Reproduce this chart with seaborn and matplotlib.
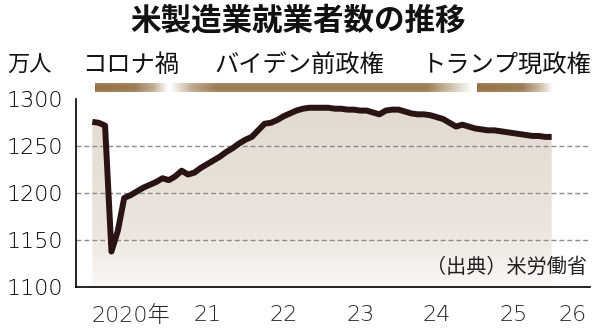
import numpy as np
import pandas as pd
import matplotlib
matplotlib.use("Agg")
import matplotlib.pyplot as plt
import seaborn as sns
from matplotlib.colors import LinearSegmentedColormap, to_rgb

# ---------------- data ----------------
title = "米製造業就業者数の推移"
unit_label = "万人"
source_label = "（出典）米労働省"

# monthly US manufacturing employment (10k persons), Jan 2020 .. Jan 2026
values_2020 = [1276, 1275, 1272, 1138, 1160, 1195, 1198, 1202, 1206, 1209, 1212, 1216]
values_2021 = [1214, 1218, 1224, 1220, 1222, 1227, 1231, 1235, 1239, 1244, 1248, 1253]
values_2022 = [1257, 1260, 1267, 1274, 1275, 1278, 1282, 1285, 1288, 1290, 1291, 1291]
values_2023 = [1291, 1291, 1290, 1290, 1289, 1289, 1288, 1288, 1286, 1284, 1288, 1289]
values_2024 = [1289, 1287, 1285, 1284, 1284, 1283, 1281, 1279, 1275, 1271, 1273, 1271]
values_2025 = [1269, 1268, 1267, 1267, 1266, 1265, 1264, 1263, 1262, 1261, 1261, 1260]
values_2026 = [1260]
values = values_2020 + values_2021 + values_2022 + values_2023 + values_2024 + values_2025 + values_2026
months = list(range(len(values)))  # 0 = Jan 2020

year_ticks = [0, 12, 24, 36, 48, 60, 72]
year_labels = ["2020年", "21", "22", "23", "24", "25", "26"]
y_ticks = [1100, 1150, 1200, 1250, 1300]

period_names = ["コロナ禍", "バイデン前政権", "トランプ現政権"]
period_ranges = [(0, 12), (12, 60), (60, 72)]

df = pd.DataFrame({"month": months, "value": values})

# ---------------- style ----------------
sns.set_style("white")
plt.rcParams["font.family"] = ["DejaVu Sans", "Noto Sans CJK JP"]
cjk = ["Noto Sans CJK JP", "DejaVu Sans"]
num_font = ["DejaVu Sans", "Noto Sans CJK JP"]

W, H = 600, 334
fig = plt.figure(figsize=(W / 100, H / 100), dpi=100)
fig.patch.set_facecolor("white")

def px(x0, y0, x1, y1):
    return [x0 / W, 1 - y1 / H, (x1 - x0) / W, (y1 - y0) / H]

ax = fig.add_axes(px(76, 99.3, 590, 287.3))
ppm = 6.38  # pixels per month
xmin = -(92.3 - 76) / ppm
xmax = (590 - 92.3) / ppm
ax.set_xlim(xmin, xmax)
ax.set_ylim(1100, 1300)

# gradient fill under line
fill = ax.fill_between(df["month"], df["value"], 1100, facecolor="none", edgecolor="none")
grad_cmap = LinearSegmentedColormap.from_list(
    "g", [(0.0, "#fcf8f6"), (0.3, "#ece5dd"), (1.0, "#e2dacf")])
grad = np.linspace(0, 1, 256).reshape(-1, 1)
im = ax.imshow(grad, cmap=grad_cmap, origin="lower", aspect="auto",
               extent=[0, len(values) - 1, 1100, 1300], zorder=1)
im.set_clip_path(fill.get_paths()[0], transform=ax.transData)
ax.set_xlim(xmin, xmax)
ax.set_ylim(1100, 1300)

# gridlines
for yv in y_ticks[1:-1]:
    ax.axhline(yv, color="#8c8c8c", lw=1.0, ls=(0, (3.5, 2.2)), zorder=2)

# line
sns.lineplot(data=df, x="month", y="value", ax=ax, color="#2a1313", lw=4.3,
             zorder=5, solid_capstyle="butt", solid_joinstyle="round")

# axes styling
for s in ["top", "right"]:
    ax.spines[s].set_visible(False)
for s in ["left", "bottom"]:
    ax.spines[s].set_color("black")
    ax.spines[s].set_linewidth(1.2)
ax.set_xlabel("")
ax.set_ylabel("")

ax.set_yticks(y_ticks)
ax.set_yticklabels([str(v) for v in y_ticks])
ax.tick_params(axis="y", direction="in", length=10, width=1.2, pad=9.5,
               labelsize=16, colors="black")
for t, v in zip(ax.yaxis.get_major_ticks(), y_ticks):
    if v != 1300:
        t.tick1line.set_visible(False)
for lab in ax.get_yticklabels():
    lab.set_family(num_font)
    lab.set_fontweight("light")

ax.set_xticks(year_ticks)
ax.set_xticklabels([])
ax.tick_params(axis="x", which="major", direction="out", length=10, width=1.2)
label_pos = [6, 18, 30, 42, 54, 66, (573 - 92.3) / ppm]
ax.set_xticks(label_pos, minor=True)
ax.set_xticklabels(year_labels, minor=True)
ax.tick_params(axis="x", which="minor", length=0, pad=13, labelsize=16)
for lab in ax.get_xticklabels(minor=True):
    lab.set_family(num_font)
    lab.set_fontweight("light")

ax.text(0.994, 0.103, source_label, transform=ax.transAxes, ha="right", va="center",
        fontsize=14.5, family=cjk, color="#222222", zorder=6)

# period bars above plot
bax = fig.add_axes(px(76, 83, 590, 92))
bax.set_xlim(xmin, xmax)
bax.set_ylim(0, 1)
bax.axis("off")
brown = np.array(to_rgb("#8a6535"))
white = np.array([1.0, 1.0, 1.0])
profiles = [
    [(0, 0.92), (0.55, 0.85), (0.8, 0.55), (1, 0.0)],
    [(0, 0.0), (0.07, 0.55), (0.15, 0.85), (0.85, 0.85), (0.94, 0.35), (1, 0.0)],
    [(0, 0.92), (0.6, 0.85), (0.85, 0.4), (1, 0.0)],
]
gaps = [(0.4, -0.3), (0.2, -0.4), (0.3, 0.2)]
for (a, b), prof, (g0, g1) in zip(period_ranges, profiles, gaps):
    t = np.linspace(0, 1, 200)
    k = np.interp(t, [p[0] for p in prof], [p[1] for p in prof])
    vert = 1 - 0.12 * (np.linspace(-1, 1, 20) ** 2)
    img = (white[None, None, :] * (1 - k[None, :, None] * vert[:, None, None])
           + brown[None, None, :] * (k[None, :, None] * vert[:, None, None]))
    bax.imshow(img, aspect="auto", extent=[a + g0, b + g1, 0, 1], origin="lower",
               interpolation="bilinear")
bax.set_xlim(xmin, xmax)
bax.set_ylim(0, 1)

# header row and title
fig.text(298 / W, 1 - 21 / H, title, ha="center", va="center", fontsize=22,
         fontweight="bold", family=cjk, color="#111111")
fig.text(7 / W, 1 - 65 / H, unit_label, ha="left", va="center", fontsize=16,
         family=cjk, color="#111111")
for name, xl in zip(period_names, [82, 214, 422]):
    fig.text(xl / W, 1 - 65 / H, name, ha="left", va="center", fontsize=17.5,
             family=cjk, color="#111111")

fig.savefig("out.png", dpi=100, facecolor="white")
